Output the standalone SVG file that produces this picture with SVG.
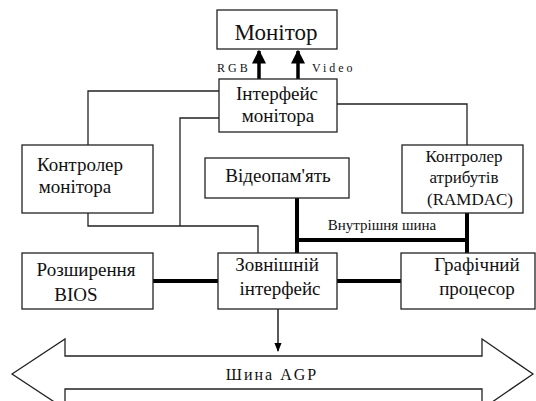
<svg xmlns="http://www.w3.org/2000/svg" width="536" height="401" viewBox="0 0 536 401" font-family="'Liberation Serif', 'Times New Roman', 'DejaVu Serif', serif">
<style>
.box{fill:#fff;stroke:#222;stroke-width:1.3}
.thin{fill:none;stroke:#222;stroke-width:1.3}
.thick{fill:none;stroke:#000;stroke-width:4}
text{font-family:'Liberation Serif','DejaVu Serif',serif}
.t{fill:#111;text-anchor:middle}
.s{font-size:19px}
.sm{font-size:17px}
.lbl{fill:#111;font-size:12px;letter-spacing:3px}
</style>
<defs>
<marker id="ah" viewBox="0 0 10 10" refX="9" refY="5" markerWidth="4" markerHeight="4" orient="auto" markerUnits="strokeWidth"><path d="M0,0 L10,5 L0,10 z" fill="#000"/></marker>
<marker id="ahs" viewBox="0 0 10 10" refX="9" refY="5" markerWidth="7" markerHeight="7" orient="auto" markerUnits="strokeWidth"><path d="M0,1 L10,5 L0,9 z" fill="#000"/></marker>
</defs>
<g id="connectors">
<polyline class="thin" points="219,91 88,91 88,145"/>
<polyline class="thin" points="219,118 180,118 180,226"/>
<polyline class="thin" points="88,213 88,226 258,226 258,253"/>
<polyline class="thin" points="337,104 467,104 467,145"/>
<polyline class="thick" points="297,198 297,253"/>
<polyline class="thick" points="297,240 467,240"/>
<polyline class="thick" points="467,213 467,253"/>
<line class="thick" x1="153" y1="281" x2="218" y2="281"/>
<line class="thick" x1="337" y1="281" x2="401" y2="281"/>
<line x1="259" y1="79" x2="259" y2="51" stroke="#000" stroke-width="3.5" marker-end="url(#ah)"/>
<line x1="298" y1="79" x2="298" y2="51" stroke="#000" stroke-width="3.5" marker-end="url(#ah)"/>
<text class="lbl" x="217" y="72">RGB</text>
<text class="lbl" x="312" y="72">Video</text>
<line x1="278" y1="309" x2="278" y2="351" stroke="#000" stroke-width="1.3" marker-end="url(#ahs)"/>
<text class="t" x="382" y="230" font-size="15">Внутрішня шина</text>
</g>
<g id="agp">
<polygon class="thin" points="12,374 65,339 65,356 482,356 482,339 533,374 482,409 482,389 65,389 65,409"/>
<text class="t" x="272" y="380" font-size="16" letter-spacing="2">Шина AGP</text>
</g>
<g id="monitor">
<rect class="box" x="217" y="10" width="120" height="39"/>
<text class="t" x="276" y="40" font-size="23">Монітор</text>
</g>
<g id="interface-monitor">
<rect class="box" x="219" y="79" width="118" height="53"/>
<text class="t s" x="277" y="100">Інтерфейс</text>
<text class="t s" x="278" y="122">монітора</text>
</g>
<g id="controller-monitor">
<rect class="box" x="22" y="145" width="131" height="68"/>
<text class="t s" x="80" y="171">Контролер</text>
<text class="t s" x="75" y="193">монітора</text>
</g>
<g id="videomemory">
<rect class="box" x="205" y="158" width="144" height="40"/>
<text class="t s" x="278" y="182">Відеопам'ять</text>
</g>
<g id="attr-controller">
<rect class="box" x="402" y="145" width="121" height="68"/>
<text class="t sm" x="464" y="162">Контролер</text>
<text class="t sm" x="464" y="183">атрибутів</text>
<text class="t sm" x="470" y="205">(RAMDAC)</text>
</g>
<g id="bios">
<rect class="box" x="22" y="253" width="131" height="56"/>
<text class="t s" x="86" y="276">Розширення</text>
<text class="t s" x="76" y="301">BIOS</text>
</g>
<g id="ext-interface">
<rect class="box" x="218" y="253" width="119" height="56"/>
<text class="t s" x="277" y="271">Зовнішній</text>
<text class="t s" x="280" y="295">інтерфейс</text>
</g>
<g id="gpu">
<rect class="box" x="401" y="253" width="134" height="56"/>
<text class="t s" x="477" y="271">Графічний</text>
<text class="t s" x="477" y="295">процесор</text>
</g>
</svg>
